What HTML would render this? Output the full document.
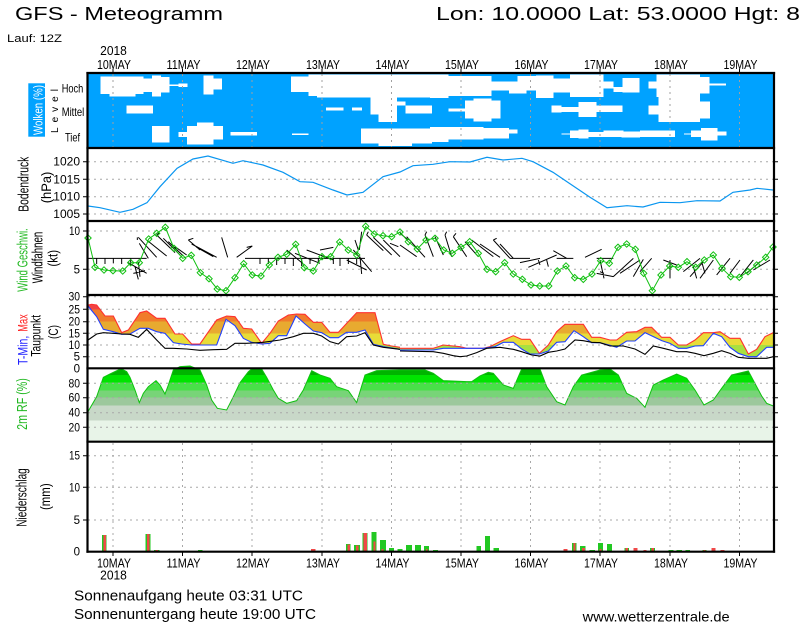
<!DOCTYPE html>
<html><head><meta charset="utf-8"><style>
html,body{margin:0;padding:0;background:#fff;}
svg{display:block;}
text{font-family:"Liberation Sans",sans-serif;}
</style></head><body>
<svg width="800" height="625" viewBox="0 0 800 625" xmlns="http://www.w3.org/2000/svg">
<defs>
<linearGradient id="tg" gradientUnits="userSpaceOnUse" x1="0" y1="0" x2="0" y2="235">
 <stop offset="0" stop-color="#f04444"/><stop offset=".2468" stop-color="#f04444"/>
 <stop offset=".2468" stop-color="#f07c2c"/><stop offset=".404" stop-color="#f07c2c"/>
 <stop offset=".404" stop-color="#e8aa30"/><stop offset=".553" stop-color="#e8aa30"/>
 <stop offset=".553" stop-color="#e8dc38"/><stop offset=".702" stop-color="#e8dc38"/>
 <stop offset=".702" stop-color="#a8e040"/><stop offset="1" stop-color="#a8e040"/>
</linearGradient>
<linearGradient id="rg" gradientUnits="userSpaceOnUse" x1="0" y1="235" x2="0" y2="455">
 <stop offset="0" stop-color="#00b400"/><stop offset=".091" stop-color="#00b400"/>
 <stop offset=".091" stop-color="#00e400"/><stop offset=".195" stop-color="#00e400"/>
 <stop offset=".195" stop-color="#48e048"/><stop offset=".305" stop-color="#48e048"/>
 <stop offset=".305" stop-color="#78d478"/><stop offset=".4" stop-color="#78d478"/>
 <stop offset=".4" stop-color="#9cc89c"/><stop offset=".509" stop-color="#9cc89c"/>
 <stop offset=".509" stop-color="#c8d8c8"/><stop offset=".714" stop-color="#c8d8c8"/>
 <stop offset=".714" stop-color="#e8f4e8"/><stop offset="1" stop-color="#e8f4e8"/>
</linearGradient>
<marker id="dm" markerWidth="8" markerHeight="8" refX="4" refY="4" markerUnits="userSpaceOnUse"><path d="M4,0.8 L7.2,4 L4,7.2 L0.8,4Z" fill="none" stroke="#10c010" stroke-width="1"/></marker>
</defs>

<!-- Header -->
<text x="15" y="20" font-size="18.5" textLength="208" lengthAdjust="spacingAndGlyphs">GFS - Meteogramm</text>
<text x="436" y="20" font-size="18.5" textLength="364" lengthAdjust="spacingAndGlyphs">Lon: 10.0000 Lat: 53.0000 Hgt: 8</text>
<text x="7" y="42" font-size="11" textLength="55" lengthAdjust="spacingAndGlyphs">Lauf: 12Z</text>

<!-- Top day labels -->
<g font-size="13" text-anchor="middle">
<text x="113.5" y="55" textLength="26.7" lengthAdjust="spacingAndGlyphs">2018</text>
<text x="114" y="69" textLength="34" lengthAdjust="spacingAndGlyphs">10MAY</text>
<text x="183.5" y="69" textLength="34" lengthAdjust="spacingAndGlyphs">11MAY</text>
<text x="253" y="69" textLength="34" lengthAdjust="spacingAndGlyphs">12MAY</text>
<text x="323" y="69" textLength="34" lengthAdjust="spacingAndGlyphs">13MAY</text>
<text x="392.5" y="69" textLength="34" lengthAdjust="spacingAndGlyphs">14MAY</text>
<text x="462" y="69" textLength="34" lengthAdjust="spacingAndGlyphs">15MAY</text>
<text x="531.5" y="69" textLength="34" lengthAdjust="spacingAndGlyphs">16MAY</text>
<text x="601" y="69" textLength="34" lengthAdjust="spacingAndGlyphs">17MAY</text>
<text x="671" y="69" textLength="34" lengthAdjust="spacingAndGlyphs">18MAY</text>
<text x="740.5" y="69" textLength="34" lengthAdjust="spacingAndGlyphs">19MAY</text>
</g>
<g stroke="#000" stroke-width="1">
<path d="M113,69V73 M182.5,69V73 M252,69V73 M322,69V73 M391.5,69V73 M461,69V73 M530.5,69V73 M600,69V73 M670,69V73 M739.5,69V73"/>
</g>

<!-- Cloud panel -->
<rect x="88" y="74" width="685" height="73" fill="#00a2ff"/>
<g fill="#fff" transform="translate(87,72) scale(0.33333)" shape-rendering="crispEdges">
<rect x="40" y="14" width="130" height="52"/>
<rect x="68" y="14" width="77" height="59"/>
<rect x="170" y="20" width="25" height="40"/>
<rect x="195" y="10" width="27" height="64"/>
<rect x="222" y="15" width="26" height="47"/>
<rect x="248" y="38" width="54" height="4"/>
<rect x="275" y="35" width="27" height="10"/>
<rect x="350" y="10" width="30" height="58"/>
<rect x="380" y="20" width="25" height="32"/>
<rect x="612" y="14" width="53" height="46"/>
<rect x="665" y="8" width="25" height="64"/>
<rect x="690" y="8" width="345" height="68"/>
<rect x="118" y="100" width="80" height="25"/>
<rect x="717" y="107" width="53" height="9"/>
<rect x="795" y="107" width="30" height="9"/>
<rect x="850" y="76" width="80" height="52"/>
<rect x="875" y="128" width="55" height="22"/>
<rect x="930" y="88" width="25" height="12"/>
<rect x="955" y="100" width="80" height="25"/>
<rect x="195" y="162" width="53" height="50"/>
<rect x="300" y="162" width="108" height="40"/>
<rect x="330" y="152" width="50" height="66"/>
<rect x="300" y="195" width="80" height="23"/>
<rect x="275" y="180" width="25" height="15"/>
<rect x="430" y="180" width="80" height="10"/>
<rect x="615" y="185" width="50" height="4"/>
<rect x="822" y="170" width="213" height="45"/>
<rect x="875" y="215" width="100" height="7"/>
</g>
<g fill="#fff" transform="translate(430,72) scale(0.33333)" shape-rendering="crispEdges">
<rect x="0" y="8" width="55" height="70"/>
<rect x="55" y="12" width="130" height="60"/>
<rect x="185" y="28" width="55" height="27"/>
<rect x="237" y="28" width="53" height="37"/>
<rect x="262" y="12" width="56" height="43"/>
<rect x="318" y="10" width="52" height="68"/>
<rect x="370" y="20" width="50" height="42"/>
<rect x="420" y="8" width="100" height="67"/>
<rect x="520" y="28" width="30" height="22"/>
<rect x="550" y="45" width="28" height="15"/>
<rect x="578" y="18" width="50" height="44"/>
<rect x="655" y="28" width="25" height="22"/>
<rect x="680" y="8" width="130" height="67"/>
<rect x="810" y="15" width="28" height="50"/>
<rect x="838" y="35" width="50" height="5"/>
<rect x="0" y="110" width="5" height="10"/>
<rect x="55" y="110" width="50" height="8"/>
<rect x="105" y="85" width="107" height="55"/>
<rect x="130" y="80" width="55" height="68"/>
<rect x="365" y="100" width="30" height="22"/>
<rect x="395" y="105" width="50" height="15"/>
<rect x="445" y="90" width="55" height="45"/>
<rect x="500" y="100" width="78" height="20"/>
<rect x="655" y="100" width="30" height="28"/>
<rect x="685" y="75" width="125" height="75"/>
<rect x="810" y="88" width="30" height="52"/>
<rect x="0" y="165" width="55" height="45"/>
<rect x="55" y="165" width="105" height="38"/>
<rect x="160" y="168" width="77" height="32"/>
<rect x="237" y="172" width="25" height="13"/>
<rect x="395" y="185" width="25" height="3"/>
<rect x="420" y="175" width="55" height="23"/>
<rect x="445" y="172" width="30" height="28"/>
<rect x="475" y="180" width="50" height="15"/>
<rect x="520" y="175" width="60" height="20"/>
<rect x="575" y="178" width="55" height="18"/>
<rect x="630" y="175" width="105" height="20"/>
<rect x="762" y="185" width="21" height="3"/>
<rect x="783" y="175" width="30" height="20"/>
<rect x="813" y="168" width="50" height="37"/>
<rect x="863" y="178" width="27" height="12"/>
</g>
<rect x="753" y="96" width="8" height="1.5" fill="#00a2ff"/>
<g stroke="#a0a0a0" stroke-width="1" stroke-dasharray="2 4">
<path d="M113,74V147 M182.5,74V147 M252,74V147 M322,74V147 M391.5,74V147 M461,74V147 M530.5,74V147 M600,74V147 M670,74V147 M739.5,74V147"/>
</g>

<!-- Cloud labels -->
<rect x="28.3" y="83.3" width="16.7" height="53.4" fill="#00a2ff"/>
<text transform="translate(42.5,110) rotate(-90)" text-anchor="middle" font-size="13" fill="#fff" textLength="50" lengthAdjust="spacingAndGlyphs">Wolken (%)</text>
<text transform="translate(58,111) rotate(-90)" text-anchor="middle" font-size="10" textLength="44" lengthAdjust="spacing">Level</text>
<text x="61.7" y="92.7" font-size="12" textLength="21.6" lengthAdjust="spacingAndGlyphs">Hoch</text>
<text x="61.7" y="116" font-size="12" textLength="22.6" lengthAdjust="spacingAndGlyphs">Mittel</text>
<text x="65" y="141.7" font-size="12" textLength="15" lengthAdjust="spacingAndGlyphs">Tief</text>

<!-- Grid lines horizontal -->
<g stroke="#a8a8a8" stroke-width="1" stroke-dasharray="2 4">
<path d="M88,161.7H773 M88,179.3H773 M88,196.7H773 M88,214H773"/>
<path d="M88,231H773 M88,269.3H773"/>
<path d="M88,296.7H773 M88,309.3H773 M88,321.7H773 M88,333.3H773 M88,345H773 M88,356.7H773"/>
<path d="M88,455.7H773 M88,487.3H773 M88,520H773"/>
<path d="M113,443V551 M182.5,443V551 M252,443V551 M322,443V551 M391.5,443V551 M461,443V551 M530.5,443V551 M600,443V551 M670,443V551 M739.5,443V551"/>
</g>

<!-- Pressure -->
<polyline fill="none" stroke="#0a96f0" stroke-width="1.2" points="88,206 100,207.7 120,212.3 133,209.3 147,202.7 160,186.7 177,168.3 193,159 208,156 233,163.3 243,160.7 263,165 283,172.3 300,181.7 313,182.3 333,190 347,195 363,192.3 383,176.7 400,172 413,165.7 433,164.3 450,161.7 470,162 487,157.3 503,160 522,158.3 533,161.7 553,172.3 567,181.7 590,197.3 607,207.7 627,205.7 643,207 660,202.3 680,202.7 697,200.7 720,201 733,192.3 750,190 757,188.3 773,190"/>

<!-- Wind barbs -->
<g fill="none" stroke="#000" transform="translate(0,140) scale(0.33333)">
<path vector-effect="non-scaling-stroke" stroke-width="1" d="M262,355 H440 M290,355 V372 M315,355 V372 M340,355 V370 M365,355 V372 M392,355 V375 M385,368 L440,400 M405,380 L415,418 M400,400 L435,392 M415,365 L420,410 M415,292 L470,352 M418,310 L445,355 M440,300 L500,348 M470,285 L525,338 M490,295 L540,345 M505,305 L550,348 M525,320 L560,345 M412,292 V300 M470,285 L478,278 M565,300 L600,330 M575,312 L650,352 M590,322 L640,350 M565,300 L580,295 M665,292 L683,352 M710,352 L757,318 M740,322 L757,318 M735,355 H1095 M780,355 V372 M805,355 V372 M830,355 V375 M855,355 V372 M880,355 V378 M905,355 V378 M930,355 V372 M955,355 V370 M1000,355 V372 M1020,355 V378 M1045,355 V372 M1070,355 V372 M860,330 L910,372 M885,340 L960,370 M920,330 L1000,360 M960,330 L1000,322 M1060,330 L1115,395 M1080,350 L1085,402 M1040,360 L1100,390 M1085,275 L1078,330 M1065,300 L1075,330 M1100,285 L1150,332 M1120,292 L1175,345 M1150,300 L1200,350 M1170,310 L1195,320 M1100,285 L1105,275"/>
</g>
<g fill="none" stroke="#000" transform="translate(400,140) scale(0.33333)">
<path vector-effect="non-scaling-stroke" stroke-width="1" d="M0,315 L50,350 M20,290 L75,352 M75,285 L100,350 M105,290 L130,345 M135,285 L155,350 M160,290 L200,350 M195,305 L235,350 M215,300 L280,350 M240,312 L300,352 M280,300 L330,355 M300,312 L340,355 M0,280 L25,300 M75,285 L80,275 M135,285 L140,275 M160,290 L168,280 M280,300 L290,295 M330,355 H390 M360,368 L420,355 M385,382 L470,345 M460,332 L500,355 M470,355 H520 M440,360 L445,380 M415,360 L420,375 M555,352 L605,328 M590,355 H640 M600,360 L612,415 M590,400 L640,410 M640,410 L700,355 M660,400 L720,360 M700,410 L730,358 M720,395 L755,355 M600,395 L612,400 M790,360 L830,375 M810,360 V415 M850,395 L900,355 M870,410 L910,365 M900,415 L940,360 M880,380 L890,415 M950,405 L990,355 M990,400 L1020,360 M1020,410 L1060,360 M1040,400 L1080,365 M1060,390 L1110,360 M905,365 L915,400"/>
</g>

<!-- Wind speed -->
<polyline fill="none" stroke="#10c010" stroke-width="1" marker-start="url(#dm)" marker-mid="url(#dm)" marker-end="url(#dm)" points="88,238 95,267.3 104,270 113,270.7 122.7,271 130.7,262.7 139.3,262.7 148.7,239 156.7,233.3 165.3,227.3 174,248.3 182.7,258.3 191.3,255.3 200.3,272.7 209,278.7 217.3,289 226,290.7 235,277.7 243.7,263.7 252.3,275 261,276 269.3,265 278,257.3 286.7,254.3 295.7,244.3 304.3,267.7 313.3,271 322,256.7 330.7,256.7 339.7,242 348.3,250 356.7,255 365.7,226.3 374.3,234 383,235.7 391.7,236.7 400,232 408.3,241.7 417.3,249 426,240 435,238.3 443.7,250 452.3,253.3 461,247.3 469.7,241.7 478.3,253.3 487,269.3 495.7,271.7 504.7,262.7 513.3,274 522.3,279.3 531,285 539.7,286 548.7,286 557.3,271 566,266 574.7,277.7 583.3,279.3 592,274 600.7,260.7 609.3,263.3 618,247.3 626.7,244 635.3,249.3 643.7,273.3 652.3,290.7 661,275 669.7,266 678.3,267.3 687,261.7 695.7,267.3 704.3,260 713.3,255 722,268.3 730.7,276.7 739.3,277.3 748,271.7 756.7,265 765.7,257.3 773,247"/>

<!-- Temperature -->
<g transform="translate(0,290) scale(0.33333)">
<polygon fill="url(#tg)" points="264,45 275,43 290,45 315,78 340,78 365,128 385,120 420,68 440,63 470,85 495,85 525,132 548,132 575,162 600,162 650,90 680,78 705,80 730,115 755,117 785,160 810,130 835,93 865,75 890,72 915,73 940,97 965,97 990,127 1015,127 1040,100 1070,68 1125,68 1150,163 1175,168 1200,172 1200,178 1150,170 1120,163 1095,120 1070,127 1040,127 1015,143 990,143 965,128 940,123 915,102 888,78 860,137 835,137 810,160 785,162 755,157 730,145 705,107 678,88 650,165 600,165 575,165 545,162 520,158 495,130 470,125 445,115 420,115 390,132 365,133 340,125 310,118 290,80 264,48"/>
<polyline fill="none" stroke="#ff3030" vector-effect="non-scaling-stroke" stroke-width="1.1" points="264,45 275,43 290,45 315,78 340,78 365,128 385,120 420,68 440,63 470,85 495,85 525,132 548,132 575,162 600,162 650,90 680,78 705,80 730,115 755,117 785,160 810,130 835,93 865,75 890,72 915,73 940,97 965,97 990,127 1015,127 1040,100 1070,68 1125,68 1150,163 1175,168 1200,172"/>
<polyline fill="none" stroke="#2040ff" vector-effect="non-scaling-stroke" stroke-width="1.1" points="264,48 290,80 310,118 340,125 365,133 390,132 420,115 445,115 470,125 495,130 520,158 545,162 575,165 600,165 650,165 678,88 705,107 730,145 755,157 785,162 810,160 835,137 860,137 888,78 915,102 940,123 965,128 990,143 1015,143 1040,127 1070,127 1095,120 1120,163 1150,170 1200,178"/>
<polyline fill="none" stroke="#000" vector-effect="non-scaling-stroke" stroke-width="1.1" points="264,150 290,132 310,128 340,130 365,132 390,133 415,142 440,118 470,150 495,175 520,175 560,177 600,181 640,179 680,178 705,160 740,160 790,157 840,150 880,140 910,130 940,130 965,138 990,155 1015,162 1040,140 1070,138 1095,128 1120,165 1150,172 1200,178"/>
</g>
<g transform="translate(400,290) scale(0.33333)">
<polygon fill="url(#tg)" points="0,175 100,175 130,165 180,170 200,175 250,175 270,170 300,155 340,137 365,148 390,148 418,190 445,165 470,125 495,103 550,103 575,142 600,142 630,150 650,150 680,127 710,125 735,112 755,112 785,142 810,142 835,165 860,165 885,150 910,128 940,128 960,125 990,145 1020,145 1045,192 1070,178 1095,140 1120,128 1120,172 1100,172 1070,200 1045,200 1015,190 990,172 965,140 940,130 910,167 885,168 860,175 835,175 810,160 785,152 760,140 735,128 705,153 680,153 650,172 630,166 600,158 575,158 550,140 522,122 495,155 470,157 445,183 418,192 390,192 365,177 340,157 310,157 285,170 250,175 200,175 130,175 100,180 0,180"/>
<polyline fill="none" stroke="#ff3030" vector-effect="non-scaling-stroke" stroke-width="1.1" points="0,175 100,175 130,165 180,170 200,175 250,175 270,170 300,155 340,137 365,148 390,148 418,190 445,165 470,125 495,103 550,103 575,142 600,142 630,150 650,150 680,127 710,125 735,112 755,112 785,142 810,142 835,165 860,165 885,150 910,128 940,128 960,125 990,145 1020,145 1045,192 1070,178 1095,140 1120,128"/>
<polyline fill="none" stroke="#2040ff" vector-effect="non-scaling-stroke" stroke-width="1.1" points="0,180 100,180 130,175 200,175 250,175 285,170 310,157 340,157 365,177 390,192 418,192 445,183 470,157 495,155 522,122 550,140 575,158 600,158 630,166 650,172 680,153 705,153 735,128 760,140 785,152 810,160 835,175 860,175 885,168 910,167 940,130 965,140 990,172 1015,190 1045,200 1070,200 1100,172 1120,172"/>
<polyline fill="none" stroke="#000" vector-effect="non-scaling-stroke" stroke-width="1.1" points="0,183 100,185 130,190 160,197 180,200 200,198 230,188 260,175 300,172 340,178 365,185 395,195 420,198 445,187 470,183 495,177 525,150 550,152 575,157 600,158 630,168 670,168 705,177 735,193 760,168 790,175 830,185 860,185 885,190 912,197 940,190 965,182 990,190 1015,202 1045,205 1100,205 1120,200"/>
</g>

<!-- RH -->
<g transform="translate(0,290) scale(0.33333)">
<polygon fill="url(#rg)" points="264,365 290,320 310,262 330,252 355,240 365,237 380,245 390,262 405,300 418,338 430,310 445,290 468,272 480,285 495,312 505,285 520,240 540,230 570,228 600,240 620,285 635,330 652,355 680,360 700,320 720,278 745,245 755,237 785,237 800,262 820,300 835,325 860,340 890,332 910,300 935,242 960,255 990,265 1010,290 1045,302 1070,338 1095,255 1130,242 1201,240 1201,455 264,455"/>
<polyline fill="none" stroke="#10c010" vector-effect="non-scaling-stroke" stroke-width="1" points="264,365 290,320 310,262 330,252 355,240 365,237 380,245 390,262 405,300 418,338 430,310 445,290 468,272 480,285 495,312 505,285 520,240 540,230 570,228 600,240 620,285 635,330 652,355 680,360 700,320 720,278 745,245 755,237 785,237 800,262 820,300 835,325 860,340 890,332 910,300 935,242 960,255 990,265 1010,290 1045,302 1070,338 1095,255 1130,242 1200,240"/>
</g>
<g transform="translate(400,290) scale(0.33333)">
<polygon fill="url(#rg)" points="0,240 75,240 100,250 130,272 200,275 215,275 240,258 265,247 280,250 310,285 340,295 365,237 420,237 440,290 470,335 495,345 520,290 545,255 600,240 630,237 655,255 680,310 710,325 735,352 760,285 790,270 830,252 860,265 885,300 912,345 940,330 965,295 995,255 1045,243 1085,318 1100,340 1120,348 1120,455 0,455"/>
<polyline fill="none" stroke="#10c010" vector-effect="non-scaling-stroke" stroke-width="1" points="0,240 75,240 100,250 130,272 200,275 215,275 240,258 265,247 280,250 310,285 340,295 365,237 420,237 440,290 470,335 495,345 520,290 545,255 600,240 630,237 655,255 680,310 710,325 735,352 760,285 790,270 830,252 860,265 885,300 912,345 940,330 965,295 995,255 1045,243 1085,318 1100,340 1120,348"/>
</g>
<g stroke="#a8a8a8" stroke-width="1" stroke-dasharray="2 4">
<path d="M88,383.3H773 M88,397.7H773 M88,412.7H773 M88,427.3H773"/>
</g>

<!-- Precip bars -->
<g fill="#22c822" shape-rendering="crispEdges">
<rect x="102" y="535" width="4.7" height="16"/>
<rect x="145.3" y="534" width="5.4" height="17"/>
<rect x="154" y="550" width="5.3" height="1"/>
<rect x="198" y="550" width="4.7" height="1"/>
<rect x="346" y="544" width="4.7" height="7"/>
<rect x="354" y="545" width="6" height="6"/>
<rect x="362.7" y="533" width="4.6" height="18"/>
<rect x="371.7" y="532" width="5" height="19"/>
<rect x="380" y="540" width="6" height="11"/>
<rect x="389" y="548" width="5" height="3"/>
<rect x="397.7" y="549" width="5" height="2"/>
<rect x="406" y="545" width="6" height="6"/>
<rect x="415" y="545" width="6" height="6"/>
<rect x="424" y="546" width="5" height="5"/>
<rect x="433" y="550" width="5" height="1"/>
<rect x="476.3" y="546" width="4.7" height="5"/>
<rect x="485" y="536" width="5" height="15"/>
<rect x="493.3" y="548" width="5.7" height="3"/>
<rect x="572" y="543" width="4.7" height="8"/>
<rect x="580" y="546" width="5.7" height="5"/>
<rect x="589.3" y="550" width="5.7" height="1"/>
<rect x="598" y="543" width="5" height="8"/>
<rect x="607" y="544" width="5" height="7"/>
<rect x="624.3" y="548" width="4.7" height="3"/>
<rect x="650" y="548" width="5" height="3"/>
<rect x="668.3" y="550" width="5" height="1"/>
<rect x="676.3" y="550" width="5.7" height="1"/>
<rect x="685.3" y="550" width="4.7" height="1"/>
<rect x="702.3" y="550" width="4.4" height="1"/>
</g>
<g fill="#f04848" shape-rendering="crispEdges">
<rect x="103.3" y="535" width="2.7" height="16"/>
<rect x="147" y="534" width="2.7" height="17"/>
<rect x="155.5" y="550" width="2.3" height="1"/>
<rect x="311" y="549" width="4.3" height="2"/>
<rect x="347.5" y="544.5" width="2.3" height="6.5"/>
<rect x="356" y="545.5" width="2.3" height="5.5"/>
<rect x="363.5" y="533" width="3.3" height="18"/>
<rect x="373.3" y="541.7" width="2.3" height="9.3"/>
<rect x="381.7" y="549" width="1.7" height="2"/>
<rect x="426" y="549" width="1.5" height="2"/>
<rect x="563.3" y="549" width="4" height="2"/>
<rect x="573.3" y="543" width="2.4" height="8"/>
<rect x="582" y="548" width="3" height="3"/>
<rect x="599.5" y="549" width="2" height="2"/>
<rect x="625.5" y="548" width="2.3" height="3"/>
<rect x="633.3" y="548" width="4" height="3"/>
<rect x="643.3" y="550" width="3.4" height="1"/>
<rect x="651.5" y="548" width="2.3" height="3"/>
<rect x="703.5" y="550" width="2" height="1"/>
<rect x="711.3" y="548" width="4" height="3"/>
<rect x="720.3" y="550" width="4" height="1"/>
</g>

<!-- Frames -->
<g stroke="#000" stroke-width="2.2" fill="none">
<path d="M87.5,72 V552.8 M774,72 V552.8"/>
<path d="M86.4,73 H775.1 M86.4,148 H775.1 M86.4,221 H775.1 M86.4,295 H775.1 M86.4,368.3 H775.1 M86.4,441.7 H775.1 M86.4,551.7 H775.1"/>
</g>
<g stroke="#000" stroke-width="1">
<path d="M83,161.7H87 M83,179.3H87 M83,196.7H87 M83,214H87 M83,231H87 M83,269.3H87 M83,296.7H87 M83,309.3H87 M83,321.7H87 M83,333.3H87 M83,345H87 M83,356.7H87 M83,383.3H87 M83,397.7H87 M83,412.7H87 M83,427.3H87 M83,455.7H87 M83,487.3H87 M83,520H87"/>
<path d="M775,161.7H778 M775,179.3H778 M775,196.7H778 M775,214H778 M775,231H778 M775,269.3H778 M775,296.7H778 M775,309.3H778 M775,321.7H778 M775,333.3H778 M775,345H778 M775,356.7H778 M775,383.3H778 M775,397.7H778 M775,412.7H778 M775,427.3H778 M775,455.7H778 M775,487.3H778 M775,520H778"/>
<path d="M113,552V556 M182.5,552V556 M252,552V556 M322,552V556 M391.5,552V556 M461,552V556 M530.5,552V556 M600,552V556 M670,552V556 M739.5,552V556"/>
</g>

<!-- Y tick labels -->
<g font-size="11.5" text-anchor="end">
<text x="80" y="165.7" textLength="26.7" lengthAdjust="spacingAndGlyphs">1020</text>
<text x="80" y="183.3" textLength="26.7" lengthAdjust="spacingAndGlyphs">1015</text>
<text x="80" y="200.7" textLength="26.7" lengthAdjust="spacingAndGlyphs">1010</text>
<text x="80" y="218" textLength="26.7" lengthAdjust="spacingAndGlyphs">1005</text>
<text x="80" y="235" textLength="11" lengthAdjust="spacingAndGlyphs">10</text>
<text x="80" y="273.3">5</text>
<text x="80" y="300.7" textLength="11.5" lengthAdjust="spacingAndGlyphs">30</text>
<text x="80" y="313.3" textLength="11.5" lengthAdjust="spacingAndGlyphs">25</text>
<text x="80" y="325.7" textLength="11.5" lengthAdjust="spacingAndGlyphs">20</text>
<text x="80" y="337.3" textLength="11.5" lengthAdjust="spacingAndGlyphs">15</text>
<text x="80" y="349" textLength="11.5" lengthAdjust="spacingAndGlyphs">10</text>
<text x="80" y="360.7">5</text>
<text x="80" y="372.3">0</text>
<text x="80" y="387.3" textLength="11.5" lengthAdjust="spacingAndGlyphs">80</text>
<text x="80" y="401.7" textLength="11.5" lengthAdjust="spacingAndGlyphs">60</text>
<text x="80" y="416.7" textLength="11.5" lengthAdjust="spacingAndGlyphs">40</text>
<text x="80" y="431.3" textLength="11.5" lengthAdjust="spacingAndGlyphs">20</text>
<text x="80" y="459.7" textLength="11" lengthAdjust="spacingAndGlyphs">15</text>
<text x="80" y="491.3" textLength="11" lengthAdjust="spacingAndGlyphs">10</text>
<text x="80" y="524">5</text>
<text x="80" y="555.7">0</text>
</g>

<!-- Rotated panel labels -->
<g font-size="14" text-anchor="middle">
<text transform="translate(28.3,184.2) rotate(-90)" font-size="15" textLength="55" lengthAdjust="spacingAndGlyphs">Bodendruck</text>
<text transform="translate(51,187.5) rotate(-90)" textLength="31.6" lengthAdjust="spacingAndGlyphs">(hPa)</text>
<text transform="translate(27.3,260) rotate(-90)" font-size="14.5" fill="#22b822" textLength="63.4" lengthAdjust="spacingAndGlyphs">Wind Geschwi.</text>
<text transform="translate(42.7,257.5) rotate(-90)" font-size="15" textLength="51.6" lengthAdjust="spacingAndGlyphs">Windfahnen</text>
<text transform="translate(57.5,258.3) rotate(-90)" textLength="16.7" lengthAdjust="spacingAndGlyphs">(kt)</text>
<text transform="translate(40.5,335.8) rotate(-90)" textLength="41.7" lengthAdjust="spacingAndGlyphs">Taupunkt</text>
<text transform="translate(58,332) rotate(-90)" textLength="14" lengthAdjust="spacingAndGlyphs">(C)</text>
<text transform="translate(27,404) rotate(-90)" font-size="14.5" fill="#22b822" textLength="51.7" lengthAdjust="spacingAndGlyphs">2m RF (%)</text>
<text transform="translate(26.5,497.5) rotate(-90)" font-size="14.5" textLength="58.4" lengthAdjust="spacingAndGlyphs">Niederschlag</text>
<text transform="translate(50,496.7) rotate(-90)" textLength="26.7" lengthAdjust="spacingAndGlyphs">(mm)</text>
</g>
<text transform="translate(27.3,365) rotate(-90)" font-size="14" fill="#2020ff" textLength="29.3" lengthAdjust="spacingAndGlyphs">T-Min,</text>
<text transform="translate(27.3,331.7) rotate(-90)" font-size="14" fill="#ff2020" textLength="17.4" lengthAdjust="spacingAndGlyphs">Max</text>

<!-- Bottom day labels -->
<g font-size="13" text-anchor="middle">
<text x="114" y="567.7" textLength="34" lengthAdjust="spacingAndGlyphs">10MAY</text>
<text x="113.5" y="579.3" textLength="26.7" lengthAdjust="spacingAndGlyphs">2018</text>
<text x="183.5" y="567.7" textLength="34" lengthAdjust="spacingAndGlyphs">11MAY</text>
<text x="253" y="567.7" textLength="34" lengthAdjust="spacingAndGlyphs">12MAY</text>
<text x="323" y="567.7" textLength="34" lengthAdjust="spacingAndGlyphs">13MAY</text>
<text x="392.5" y="567.7" textLength="34" lengthAdjust="spacingAndGlyphs">14MAY</text>
<text x="462" y="567.7" textLength="34" lengthAdjust="spacingAndGlyphs">15MAY</text>
<text x="531.5" y="567.7" textLength="34" lengthAdjust="spacingAndGlyphs">16MAY</text>
<text x="601" y="567.7" textLength="34" lengthAdjust="spacingAndGlyphs">17MAY</text>
<text x="671" y="567.7" textLength="34" lengthAdjust="spacingAndGlyphs">18MAY</text>
<text x="740.5" y="567.7" textLength="34" lengthAdjust="spacingAndGlyphs">19MAY</text>
</g>

<!-- Footer -->
<text x="74" y="600.7" font-size="14.5" textLength="229" lengthAdjust="spacingAndGlyphs">Sonnenaufgang heute 03:31 UTC</text>
<text x="74" y="619" font-size="14.5" textLength="242" lengthAdjust="spacingAndGlyphs">Sonnenuntergang heute 19:00 UTC</text>
<text x="582.7" y="621.3" font-size="14" textLength="147" lengthAdjust="spacingAndGlyphs">www.wetterzentrale.de</text>
</svg>
</body></html>
